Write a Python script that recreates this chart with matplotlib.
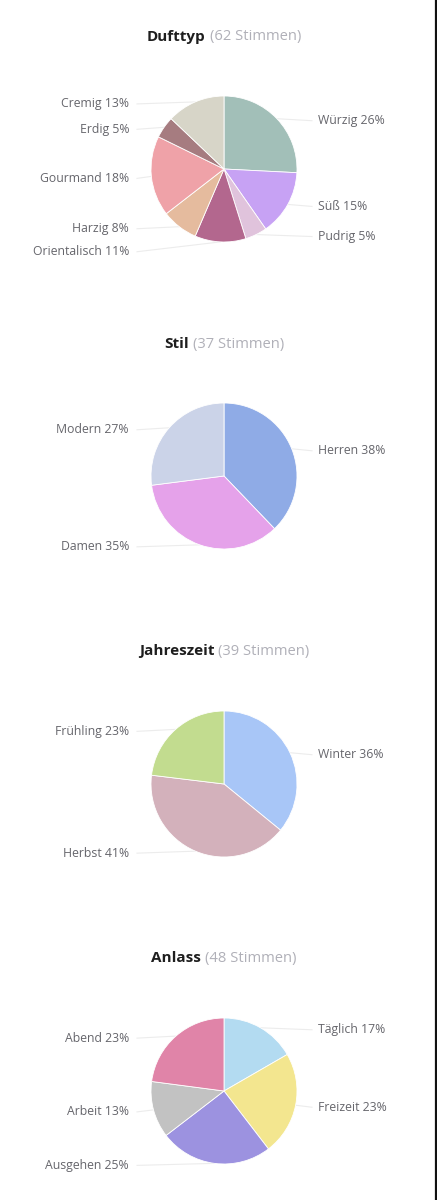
import numpy as np
import matplotlib
matplotlib.use("Agg")
import matplotlib.pyplot as plt

# ---------------- data ----------------
duft_titles = ["Dufttyp", "Stil", "Jahreszeit", "Anlass"]
votes = [62, 37, 39, 48]

duft_labels = ["Würzig", "Süß", "Pudrig", "Orientalisch", "Harzig", "Gourmand", "Erdig", "Cremig"]
duft_counts = [16, 9, 3, 7, 5, 11, 3, 8]
duft_colors = ["#a2bfb8", "#c7a2f4", "#e0c3dc", "#b3678e", "#e5bb9e", "#efa2a8", "#a67c80", "#d7d5c8"]

stil_labels = ["Herren", "Damen", "Modern"]
stil_counts = [14, 13, 10]
stil_colors = ["#8fabe6", "#e5a2ea", "#cbd3e8"]

jahr_labels = ["Winter", "Herbst", "Frühling"]
jahr_counts = [14, 16, 9]
jahr_colors = ["#a8c6f7", "#d3b1bb", "#c2dc8f"]

anlass_labels = ["Täglich", "Freizeit", "Ausgehen", "Arbeit", "Abend"]
anlass_counts = [8, 11, 12, 6, 11]
anlass_colors = ["#b3dbf1", "#f3e68f", "#9c92e0", "#c2c2c2", "#e084a8"]

groups = [
    (duft_labels, duft_counts, duft_colors),
    (stil_labels, stil_counts, stil_colors),
    (jahr_labels, jahr_counts, jahr_colors),
    (anlass_labels, anlass_counts, anlass_colors),
]

# ---------------- layout (pixels) ----------------
W, H = 437, 1200
CX = 224
CENTERS_Y = [169, 476, 784, 1091]
TITLE_Y = [35, 343, 650, 957]
R = 73
LEFT_X = 129
RIGHT_X = 318
MIN_GAP = 23
LABEL_DY = 2

LABEL_FONT = "Open Sans"
TITLE_FONT = "Open Sans"

fig = plt.figure(figsize=(W / 100, H / 100), dpi=100)
fig.patch.set_facecolor("white")
ax = fig.add_axes([0, 0, 1, 1])


def place(ys):
    ys = sorted(ys)
    out = []
    last = -1e9
    for y, i in ys:
        y = max(y, last + MIN_GAP)
        out.append((y, i))
        last = y
    return out


for g, (labels, counts, colors) in enumerate(groups):
    cy_img = CENTERS_Y[g]
    cy = H - cy_img
    counts = np.asarray(counts, dtype=float)
    ax.pie(counts, colors=colors, startangle=90, counterclock=False,
           center=(CX, cy), radius=R,
           wedgeprops=dict(edgecolor="white", linewidth=0.6))
    frac = counts / counts.sum()
    cum = np.cumsum(frac) - frac / 2
    theta = cum * 2 * np.pi  # clockwise from top
    pct = [int(np.floor(f * 100 + 0.5)) for f in frac]

    left, right = [], []
    for i, t in enumerate(theta):
        y_img = cy_img - R * np.cos(t) + LABEL_DY
        if np.sin(t) >= 0:
            right.append((y_img, i))
        else:
            left.append((y_img, i))

    for side, items in (("R", place(right)), ("L", place(left))):
        for y_img, i in items:
            t = theta[i]
            ex = CX + R * np.sin(t)
            ey = cy + R * np.cos(t)
            ly = H - y_img
            if side == "R":
                ax.plot([ex, RIGHT_X - 6], [ey, ly], color="#ececec", lw=0.8, zorder=0)
                ax.text(RIGHT_X, ly, f"{labels[i]} {pct[i]}%", ha="left", va="center",
                        fontsize=8.8, color="#66666c", family=LABEL_FONT)
            else:
                ax.plot([ex, LEFT_X + 8], [ey, ly], color="#ececec", lw=0.8, zorder=0)
                ax.text(LEFT_X, ly, f"{labels[i]} {pct[i]}%", ha="right", va="center",
                        fontsize=8.8, color="#66666c", family=LABEL_FONT)

ax.set_xlim(0, W)
ax.set_ylim(0, H)
ax.set_aspect("auto")
ax.axis("off")

# titles: bold name + grey vote count, centred together
renderer = fig.canvas.get_renderer()
for g in range(4):
    y = H - TITLE_Y[g] - 1.5
    t1 = ax.text(0, y, duft_titles[g], ha="left", va="center", fontsize=11.0,
                 fontweight="bold", color="#1e1e1e", family=TITLE_FONT)
    t2 = ax.text(0, y, f"({votes[g]} Stimmen)", ha="left", va="center", fontsize=10.6,
                 color="#b0b0b8", family=TITLE_FONT)
    w1 = t1.get_window_extent(renderer).width
    w2 = t2.get_window_extent(renderer).width
    gap = 4
    total = w1 + gap + w2
    x0 = CX - total / 2
    t1.set_x(x0)
    t2.set_x(x0 + w1 + gap)

# right border line
ax.plot([W - 1.5, W - 1.5], [0, H], color="#111111", lw=1.6, clip_on=False)

fig.savefig("out.png", dpi=100, facecolor="white")
